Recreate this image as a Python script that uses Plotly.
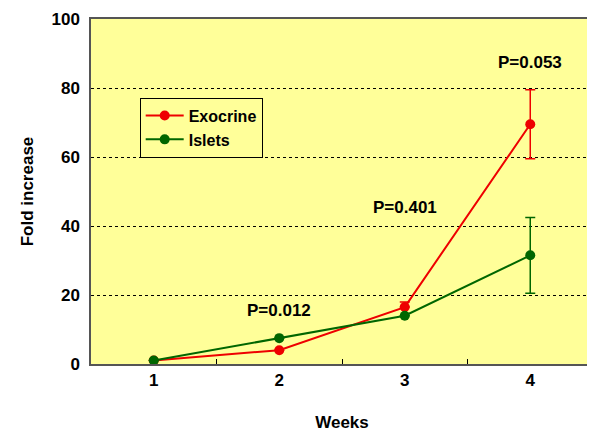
import plotly.graph_objects as go

weeks = ["1", "2", "3", "4"]
exocrine = [1.0, 4.0, 16.5, 69.5]
exocrine_err_plus = [0, 0, 1.5, 10.0]
exocrine_err_minus = [0, 0, 0, 10.0]
islets = [1.0, 7.5, 14.0, 31.5]
islets_err = [0, 0, 0, 11.0]
p_labels = ["P=0.012", "P=0.401", "P=0.053"]
p_weeks = ["2", "3", "4"]
p_y = [15.5, 45.5, 87.5]

font = "Liberation Sans, Arial, sans-serif"
BOLD = dict(family=font, size=17, color="black", weight="bold")

fig = go.Figure()
fig.add_trace(go.Scatter(
    x=weeks, y=exocrine, name="Exocrine", mode="lines+markers",
    line=dict(color="#ee0000", width=2), marker=dict(size=10, color="#ee0000"),
    error_y=dict(type="data", array=exocrine_err_plus, arrayminus=exocrine_err_minus,
                 color="#ee0000", thickness=1.5, width=5, symmetric=False)))
fig.add_trace(go.Scatter(
    x=weeks, y=islets, name="Islets", mode="lines+markers",
    line=dict(color="#006600", width=2), marker=dict(size=10, color="#006600"),
    error_y=dict(type="data", array=islets_err, color="#006600", thickness=1.5, width=5)))

for t, w, yv in zip(p_labels, p_weeks, p_y):
    fig.add_annotation(x=weeks.index(w), y=yv, text=t, showarrow=False, font=BOLD)

# page body has an 8px default margin, so the figure is sized/offset for that
fig.update_layout(
    width=587, height=424,
    margin=dict(l=83, r=2, t=11, b=68),
    paper_bgcolor="white", plot_bgcolor="#ffff99",
    font=dict(family=font, size=17, color="black"),
    showlegend=True,
    legend=dict(x=0.097, y=0.772, xanchor="left", yanchor="top",
                bgcolor="#ffff99", bordercolor="black", borderwidth=1,
                font=dict(family=font, size=16, color="black", weight="bold"),
                itemwidth=38, tracegroupgap=0),
    xaxis=dict(type="category", range=[-0.5, 3.5], tickson="boundaries",
               ticks="inside", ticklen=5, tickcolor="black", automargin=False,
               showgrid=False, showline=True, linecolor="#555555", linewidth=1.5,
               mirror=True, zeroline=False,
               title=dict(text="Weeks", standoff=31, font=BOLD),
               tickfont=BOLD),
    yaxis=dict(range=[0, 100], tickvals=[0, 20, 40, 60, 80, 100], automargin=False,
               showgrid=True, gridcolor="black", griddash="3px,3px", gridwidth=1,
               showline=True, linecolor="#555555", linewidth=1.5, mirror=True,
               zeroline=False, ticks="", ticklabelstandoff=6,
               title=dict(text="Fold increase", standoff=14, font=BOLD),
               tickfont=BOLD),
)
fig.write_html("out.html")
